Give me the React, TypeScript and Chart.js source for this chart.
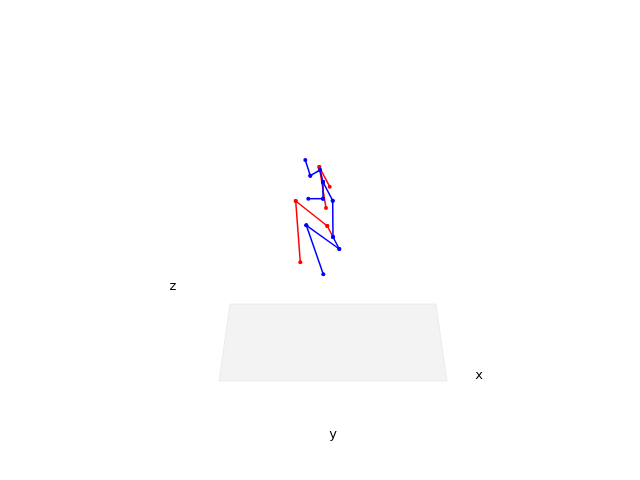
import React, { useEffect, useRef } from "react";
import { Chart, registerables } from "chart.js";

Chart.register(...registerables);

// Projected joint positions (view units)
const jointX = [-0.147, -0.097, 0.0, 0.03, 0.03, -0.117, 0.127, 0.13, 0.193, -0.137, 0.033, -0.007, 0.097, 0.06, -0.243, 0.073, -0.197];
const jointY = [0.8, 0.643, 0.7, 0.58, 0.413, 0.413, 0.393, 0.03, -0.09, 0.147, -0.343, 0.73, 0.533, 0.32, 0.39, 0.14, -0.223];

const blueBones: [number, number][] = [
  [0, 1], [1, 2], [2, 3], [3, 4], [5, 4], [3, 6], [6, 7], [7, 8], [8, 9], [9, 10],
];
const redBones: [number, number][] = [
  [11, 12], [11, 13], [14, 15], [14, 16], [15, 7],
];

// Ground plane outline (view units)
const planeX = [-0.9, 1.16, 1.27, -1.01, -0.9];
const planeY = [-0.64, -0.64, -1.41, -1.41, -0.64];

// Axis labels
const axisLabels = ["z", "x", "y"];
const axisLabelX = [-1.47, 1.59, 0.13];
const axisLabelY = [-0.47, -1.36, -1.95];

const BLUE = "#0000ff";
const RED = "#ff0000";

export default function App() {
  const ref = useRef<HTMLCanvasElement | null>(null);

  useEffect(() => {
    if (!ref.current) return;
    const boneDataset = (b: [number, number], color: string) => ({
      data: b.map((i) => ({ x: jointX[i], y: jointY[i] })),
      showLine: true,
      borderColor: color,
      backgroundColor: color,
      pointBackgroundColor: color,
      pointBorderColor: color,
      borderWidth: 1.5,
      pointRadius: 2,
      pointBorderWidth: 0,
      tension: 0,
    });
    const datasets: any[] = [
      ...blueBones.map((b) => boneDataset(b, BLUE)),
      ...redBones.map((b) => boneDataset(b, RED)),
      {
        data: planeX.map((x, i) => ({ x, y: planeY[i] })),
        showLine: true,
        fill: "shape",
        borderColor: "rgba(230,230,230,0.7)",
        backgroundColor: "rgba(243,243,243,1)",
        borderWidth: 1,
        pointRadius: 0,
        tension: 0,
      },
    ];

    const labelPlugin = {
      id: "axisLabels3d",
      afterDatasetsDraw(chart: any) {
        const { ctx, scales } = chart;
        ctx.save();
        ctx.fillStyle = "#000";
        ctx.font = "13px 'DejaVu Sans'";
        ctx.textAlign = "center";
        ctx.textBaseline = "middle";
        axisLabels.forEach((t, i) => {
          ctx.fillText(t, scales.x.getPixelForValue(axisLabelX[i]), scales.y.getPixelForValue(axisLabelY[i]));
        });
        ctx.restore();
      },
    };

    const chart = new Chart(ref.current, {
      type: "scatter",
      data: { datasets },
      options: {
        responsive: false,
        animation: false,
        layout: { padding: 0, autoPadding: false },
        plugins: { legend: { display: false }, tooltip: { enabled: false } },
        scales: {
          x: { type: "linear", min: -3.2, max: 3.2, display: false },
          y: { type: "linear", min: -2.4, max: 2.4, display: false },
        },
      },
      plugins: [labelPlugin],
    });
    return () => chart.destroy();
  }, []);

  return (
    <div style={{ position: "fixed", left: 0, top: 0, width: 640, height: 480, background: "#fff" }}>
      <canvas ref={ref} width={640} height={480} style={{ width: 640, height: 480 }} />
    </div>
  );
}
